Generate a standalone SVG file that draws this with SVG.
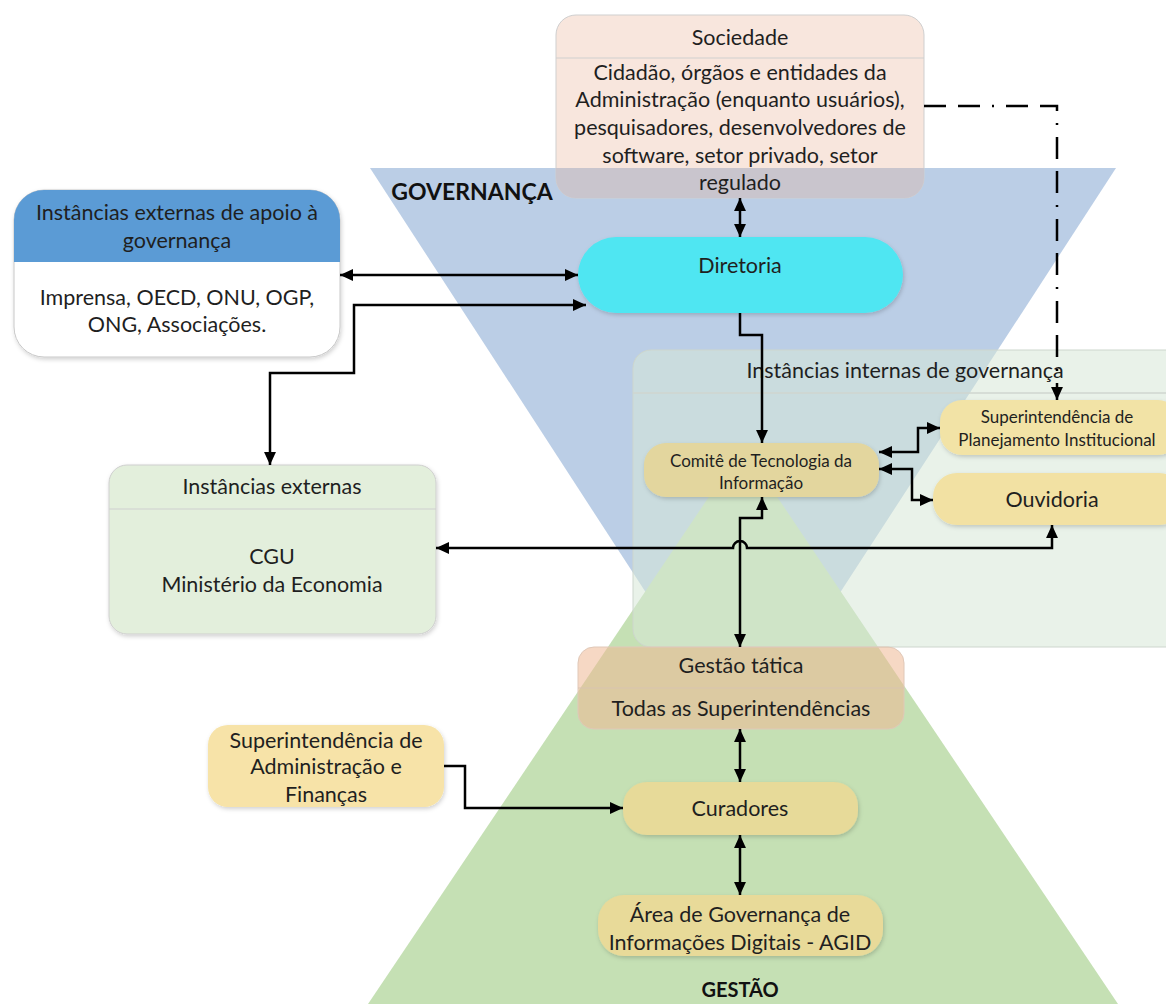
<svg xmlns="http://www.w3.org/2000/svg" width="1166" height="1004" viewBox="0 0 1166 1004">
  <style>
    text { font-family: Lato, "Liberation Sans", sans-serif; fill: #1f1f1f; text-anchor: middle; }
    .t18 { font-size: 21.5px; }
    .t14 { font-size: 17px; }
    .bold { font-weight: bold; font-size: 23px; fill: #111; }
    .edge { fill: none; stroke: #000; stroke-width: 2.5; marker-end: url(#head); }
    .both { marker-start: url(#head); }
    .dashdot { stroke-dasharray: 22 12 22 12 2 12; }
    .box { stroke: #cfcfcf; stroke-width: 1; }
    .sep { stroke: #cfcfcf; stroke-width: 1.2; }
  </style>
  <defs>
    <marker id="head" viewBox="0 0 12 11" markerUnits="userSpaceOnUse" markerWidth="13" markerHeight="12" refX="12" refY="5.5" orient="auto-start-reverse">
      <path d="M0,0 L12,5.5 L0,11 z" fill="#000"/>
    </marker>
    <filter id="shadow" x="-10%" y="-10%" width="120%" height="130%">
      <feDropShadow dx="1" dy="2" stdDeviation="2" flood-color="#000" flood-opacity="0.18"/>
    </filter>
    <clipPath id="lowerSoc"><rect x="540" y="168" width="400" height="40"/></clipPath>
    <clipPath id="apoioHead"><rect x="0" y="180" width="360" height="82"/></clipPath>
  </defs>

  <!-- governance (inverted) and management triangles -->
  <polygon id="governanca" points="370,168 1116,168 743,742" fill="#bbcee6"/>
  <polygon id="gestao" points="743,446 368,1004 1118,1004" fill="#c5e0b4"/>
  <text class="bold" x="472" y="200">GOVERNANÇA</text>
  <text class="bold" x="740" y="997" style="font-size:20px">GESTÃO</text>

  <!-- Sociedade -->
  <g id="sociedade">
    <rect class="box" x="556" y="15" width="368" height="183" rx="20" fill="#f8e6dd"/>
    <rect x="556" y="15" width="368" height="183" rx="20" fill="#c9c5cd" clip-path="url(#lowerSoc)"/>
    <line class="sep" x1="556" y1="58" x2="924" y2="58"/>
    <text class="t18" x="740" y="45">Sociedade</text>
    <text class="t18" x="740" y="80">Cidadão, órgãos e entidades da</text>
    <text class="t18" x="740" y="107">Administração (enquanto usuários),</text>
    <text class="t18" x="740" y="135">pesquisadores, desenvolvedores de</text>
    <text class="t18" x="740" y="163">software, setor privado, setor</text>
    <text class="t18" x="740" y="190">regulado</text>
  </g>

  <!-- external support bodies -->
  <g id="apoio-externo">
    <rect x="14" y="190" width="326" height="167" rx="30" fill="#ffffff" stroke="#c8c8c8" filter="url(#shadow)"/>
    <rect x="14" y="190" width="326" height="167" rx="30" fill="#5b9bd5" clip-path="url(#apoioHead)"/>
    <text class="t18" x="177" y="220">Instâncias externas de apoio à</text>
    <text class="t18" x="177" y="248">governança</text>
    <text class="t18" x="177" y="305">Imprensa, OECD, ONU, OGP,</text>
    <text class="t18" x="177" y="332">ONG, Associações.</text>
  </g>

  <!-- Diretoria -->
  <g id="diretoria">
    <rect x="578" y="237" width="325" height="76" rx="38" fill="#4fe6f2" filter="url(#shadow)"/>
    <text class="t18" x="740" y="273">Diretoria</text>
  </g>

  <!-- external bodies -->
  <g id="instancias-externas">
    <rect class="box" x="109" y="465" width="327" height="169" rx="18" fill="#e3efdc" filter="url(#shadow)"/>
    <line class="sep" x1="109" y1="509" x2="436" y2="509"/>
    <text class="t18" x="272" y="494">Instâncias externas</text>
    <text class="t18" x="272" y="564">CGU</text>
    <text class="t18" x="272" y="592">Ministério da Economia</text>
  </g>

  <!-- internal governance bodies (translucent container) -->
  <g id="instancias-internas">
    <rect x="633" y="350" width="560" height="297" rx="18" fill="#d7e8d7" fill-opacity="0.55" stroke="#cdd6cd"/>
    <line x1="633" y1="393" x2="1166" y2="393" stroke="#cfd6cf" stroke-width="1.5"/>
    <text class="t18" x="905" y="378">Instâncias internas de governança</text>
  </g>

  <g id="comite">
    <rect x="644" y="443" width="235" height="54" rx="22" fill="#e3d69e" filter="url(#shadow)"/>
    <text class="t14" x="761" y="467">Comitê de Tecnologia da</text>
    <text class="t14" x="761" y="489">Informação</text>
  </g>

  <g id="sup-planejamento">
    <rect x="940" y="400" width="240" height="55" rx="22" fill="#f2e3a6" filter="url(#shadow)"/>
    <text class="t14" x="1057" y="423">Superintendência de</text>
    <text class="t14" x="1057" y="446">Planejamento Institucional</text>
  </g>

  <g id="ouvidoria">
    <rect x="933" y="473" width="250" height="52" rx="24" fill="#f2e1a3" filter="url(#shadow)"/>
    <text class="t18" x="1052" y="507">Ouvidoria</text>
  </g>

  <!-- tactical management -->
  <g id="gestao-tatica">
    <rect x="578" y="647" width="326" height="82" rx="16" fill="#efb894" fill-opacity="0.55" stroke="#e0c8b8"/>
    <line x1="578" y1="688" x2="904" y2="688" stroke="#d8c4b0" stroke-width="1.2"/>
    <text class="t18" x="741" y="673">Gestão tática</text>
    <text class="t18" x="741" y="716">Todas as Superintendências</text>
  </g>

  <g id="sup-administracao">
    <rect x="208" y="725" width="236" height="82" rx="20" fill="#f7e3a8" filter="url(#shadow)"/>
    <text class="t18" x="326" y="748">Superintendência de</text>
    <text class="t18" x="326" y="774">Administração e</text>
    <text class="t18" x="326" y="802">Finanças</text>
  </g>

  <g id="curadores">
    <rect x="623" y="782" width="235" height="53" rx="24" fill="#e7da99" filter="url(#shadow)"/>
    <text class="t18" x="740" y="816">Curadores</text>
  </g>

  <g id="agid">
    <rect x="598" y="895" width="285" height="61" rx="26" fill="#e8da99" filter="url(#shadow)"/>
    <text class="t18" x="740" y="922">Área de Governança de</text>
    <text class="t18" x="740" y="950">Informações Digitais - AGID</text>
  </g>

  <!-- connectors -->
  <g id="connectors">
    <path class="edge both" d="M740,198 V237"/>
    <path class="edge both" d="M340,275 H578"/>
    <path class="edge both" d="M270,465 V373 H354 V305 H586"/>
    <path class="edge" d="M740,313 V335 H762 V443"/>
    <path class="edge dashdot" d="M924,106 H1057 V400"/>
    <path class="edge both" d="M879,452 H918 V428 H940"/>
    <path class="edge both" d="M879,469 H912 V500 H933"/>
    <path class="edge both" d="M762,497 V518 H740 V647"/>
    <path class="edge both" d="M1052,525 V548 H747 A7,7 0 0 0 733,548 H436"/>
    <path class="edge both" d="M740,729 V782"/>
    <path class="edge" d="M444,766 H465 V808 H623"/>
    <path class="edge both" d="M740,835 V895"/>
  </g>
</svg>
